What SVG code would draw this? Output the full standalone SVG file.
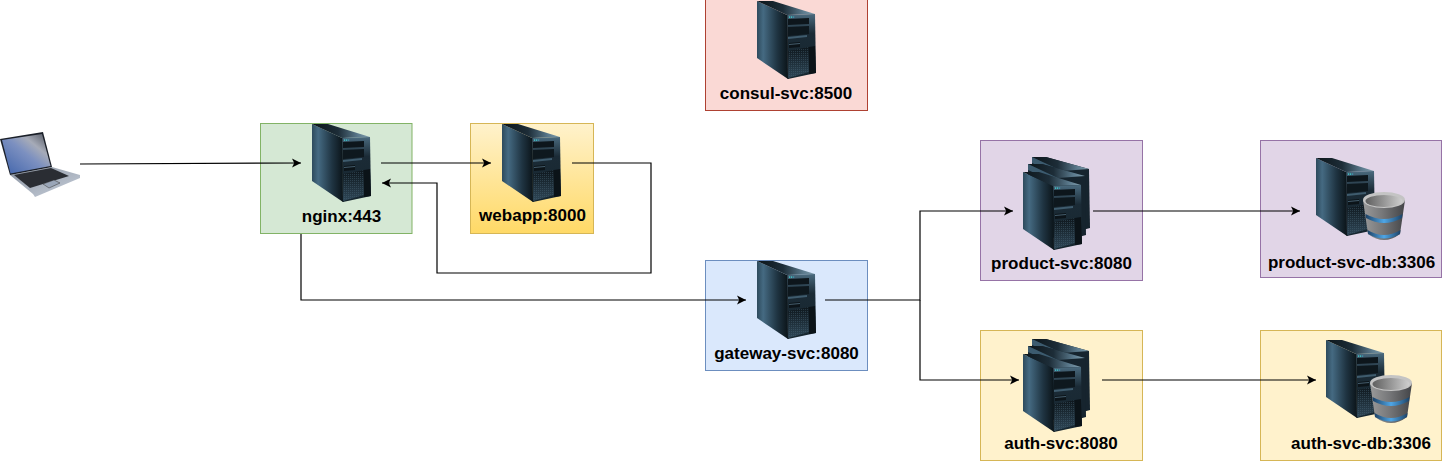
<svg xmlns="http://www.w3.org/2000/svg" width="1442" height="462" viewBox="0 0 1442 462">
<style>
text{font-family:"Liberation Sans",Arial,sans-serif;font-weight:bold;font-size:17px;fill:#000;text-anchor:middle}
.box{stroke-width:1}
.conn{fill:none;stroke:#000;stroke-width:1.2;marker-end:url(#arrow)}
</style>
<defs>
<marker id="arrow" markerUnits="userSpaceOnUse" markerWidth="12" markerHeight="12" refX="10" refY="6" orient="auto"><path d="M1 1.500 L10 6 L1 10.500 L3.200 6 Z" fill="#000"/></marker>
<linearGradient id="yellowGrad" x1="0" y1="0" x2="0" y2="1"><stop offset="0" stop-color="#fff2cc"/><stop offset="1" stop-color="#ffd966"/></linearGradient>
<linearGradient id="side" x1="0" y1="0" x2="1" y2="0"><stop offset="0" stop-color="#2d4a5c"/><stop offset=".2" stop-color="#456a82"/><stop offset=".65" stop-color="#1f3442"/><stop offset="1" stop-color="#0b1419"/></linearGradient>
<linearGradient id="top" x1="0" y1="0" x2="1" y2="0"><stop offset="0" stop-color="#0c151a"/><stop offset=".45" stop-color="#1d2d38"/><stop offset=".8" stop-color="#5c7b8e"/><stop offset="1" stop-color="#7f9cab"/></linearGradient>
<linearGradient id="front" x1="0" y1="0" x2="0" y2="1"><stop offset="0" stop-color="#4a6a7e"/><stop offset=".3" stop-color="#1b2b36"/><stop offset="1" stop-color="#16262f"/></linearGradient>
<linearGradient id="mesh" x1="0" y1="0" x2="0" y2="1"><stop offset="0" stop-color="#0e171d"/><stop offset="1" stop-color="#2f4757"/></linearGradient>
<pattern id="meshDots" width="2" height="2" patternUnits="userSpaceOnUse"><rect width="1" height="1" fill="#4c6a7a" fill-opacity=".4"/></pattern>
<linearGradient id="dbBody" x1="0" y1="0" x2="1" y2="0"><stop offset="0" stop-color="#9a9a9a"/><stop offset=".45" stop-color="#77787a"/><stop offset="1" stop-color="#434447"/></linearGradient>
<linearGradient id="dbTop" x1="0" y1="0" x2="1" y2="0"><stop offset="0" stop-color="#5f5f5f"/><stop offset="1" stop-color="#cfcfcf"/></linearGradient>
<linearGradient id="dbBand" x1="0" y1="0" x2="1" y2="0"><stop offset="0" stop-color="#1d4266"/><stop offset=".5" stop-color="#4fa6e6"/><stop offset="1" stop-color="#1d4266"/></linearGradient>
<linearGradient id="screen" x1="0" y1="1" x2="1" y2="0"><stop offset="0" stop-color="#3f63ab"/><stop offset=".5" stop-color="#7c90c0"/><stop offset=".7" stop-color="#a6abb8"/><stop offset="1" stop-color="#4a4e58"/></linearGradient>
<linearGradient id="deck" x1="0" y1="0" x2="1" y2="1"><stop offset="0" stop-color="#8a93a0"/><stop offset="1" stop-color="#c8d0dc"/></linearGradient>
<symbol id="server" width="60" height="80" viewBox="0 0 60 80" overflow="visible">
<path d="M0 0 L30 14 L31 78 L0 57 Z" fill="url(#side)"/>
<path d="M0 0 L16 0 L58 13 L30 14 Z" fill="url(#top)"/>
<path d="M30 14 L58 13 L59 72 L31 78 Z" fill="url(#front)"/>
<path d="M30 14 L31 78" stroke="#0c161c" stroke-width=".8"/>
<path d="M31 18 L52 17 L52 23 L31 24 Z" fill="#0d161c"/>
<path d="M31 26 L52 25 L52 33 L31 35 Z" fill="#0e181e"/>
<path d="M31 36 L50 34 L50 36 L31 38 Z" fill="#3f5c6e"/>
<path d="M32 42 L43 41 L43 46 L32 47 Z" fill="#0c1419"/>
<path d="M32 43.500 L43 42.500" stroke="#5c7d90" stroke-width=".7"/>
<path d="M31 50 L52 46 L52 71 L31 77 Z" fill="url(#mesh)"/>
<path d="M31 50 L52 46 L52 71 L31 77 Z" fill="url(#meshDots)"/>
<path d="M52 46 L58 45 L59 72 L52 73 Z" fill="#0b1318"/>
<rect x="32" y="15.500" width="1.200" height="1.200" fill="#3ee0e0"/><rect x="34" y="15.500" width="1.200" height="1.200" fill="#3ee0e0"/><rect x="36" y="15.500" width="1.200" height="1.200" fill="#3ea0c0"/>
</symbol>
<symbol id="serverBack" width="60" height="80" viewBox="0 0 60 80" overflow="visible">
<path d="M0 0 L14 0 L57 12 L58 71 L32 78 L0 57 Z" fill="#16242e"/>
<path d="M0 0 L14 0 L57 12 L30 14 Z" fill="url(#top)"/>
<path d="M0 0 L30 14 L31 20 L0 6 Z" fill="#3c5b6f"/>
</symbol>
<symbol id="servers" width="68" height="94" viewBox="0 0 68 94" overflow="visible">
<use href="#serverBack" x="9" y="0" width="60" height="80"/>
<use href="#serverBack" x="5" y="7" width="60" height="80"/>
<use href="#server" x="0" y="15" width="60" height="80"/>
</symbol>
<symbol id="db" width="44" height="50" viewBox="-22 0 44 50" overflow="visible">
<path d="M-21 8 L-16 42 Q0 54 16 42 L21 8 Z" fill="url(#dbBody)"/>
<path d="M-18.500 22 Q0 32 18.500 22 L18 26 Q0 36 -18 26 Z" fill="url(#dbBand)"/>
<path d="M-16.500 38 Q0 48 16.500 38 L16 42 Q0 51 -16 42 Z" fill="url(#dbBand)"/>
<ellipse cx="0" cy="8" rx="21" ry="8" fill="#c4c4c4"/>
<ellipse cx="0" cy="9" rx="18.500" ry="6" fill="url(#dbTop)"/>
</symbol>
</defs>

<g id="laptop">
<path d="M10 175 L52 167 L80 175 L80 178 L35 197 L33 194 Z" fill="url(#deck)"/>
<path d="M0 139 L43 132 L52 167 L10 175 Z" fill="#1a1f28"/>
<path d="M2 140 L42 134 L50.500 166 L10.500 173.500 Z" fill="url(#screen)"/>
<path d="M14 175 L51 168 L69 176 L30 188 Z" fill="#2a2d33"/>
<path d="M43 184 L54 180 L60 183 L49 188 Z" fill="#9aa6b8" stroke="#333" stroke-width=".5"/>
</g>

<g id="nginx">
<rect class="box" x="260.500" y="123.500" width="151.500" height="110" fill="#d5e8d4" stroke="#82b366"/>
<use href="#server" x="312" y="124" width="60" height="80"/>
<text x="341.500" y="221.500">nginx:443</text>
</g>

<g id="webapp">
<rect class="box" x="470.500" y="123.500" width="123" height="110" fill="url(#yellowGrad)" stroke="#d6b656"/>
<use href="#server" x="502" y="124" width="60" height="80"/>
<text x="532.500" y="220.500">webapp:8000</text>
</g>

<g id="consul-svc">
<rect class="box" x="705.500" y="-0.500" width="162" height="111" fill="#fad9d5" stroke="#ae4132"/>
<use href="#server" x="757" y="1" width="60" height="80"/>
<text x="786" y="98.500">consul-svc:8500</text>
</g>

<g id="gateway-svc">
<rect class="box" x="705.500" y="260.500" width="162" height="110" fill="#dae8fc" stroke="#6c8ebf"/>
<use href="#server" x="757" y="261" width="60" height="80"/>
<text x="786.500" y="358.500">gateway-svc:8080</text>
</g>

<g id="product-svc">
<rect class="box" x="980.500" y="140.500" width="162" height="140" fill="#e1d5e7" stroke="#9673a6"/>
<use href="#servers" x="1023" y="157" width="68" height="94"/>
<text x="1061.500" y="268.500">product-svc:8080</text>
</g>

<g id="auth-svc">
<rect class="box" x="980.500" y="330.500" width="162" height="130" fill="#fff2cc" stroke="#d6b656"/>
<use href="#servers" x="1023" y="339" width="68" height="94"/>
<text x="1061" y="448.500">auth-svc:8080</text>
</g>

<g id="product-svc-db">
<rect class="box" x="1260.500" y="140.500" width="181" height="137" fill="#e1d5e7" stroke="#9673a6"/>
<use href="#server" x="1316" y="158" width="60" height="80"/>
<use href="#db" x="1362" y="192" width="44" height="50"/>
<text x="1351.500" y="267.500">product-svc-db:3306</text>
</g>

<g id="auth-svc-db">
<rect class="box" x="1260.500" y="330.500" width="181" height="130" fill="#fff2cc" stroke="#d6b656"/>
<use href="#server" x="1326" y="340" width="60" height="80"/>
<use href="#db" x="1369" y="375" width="44" height="50"/>
<text x="1361" y="448.500">auth-svc-db:3306</text>
</g>

<g id="connectors">
<path class="conn" d="M80 164 L301 163"/>
<path class="conn" d="M381 163 L491 163"/>
<path class="conn" d="M572 163 L651 163 L651 273 L437 273 L437 183 L382 183"/>
<path class="conn" d="M301 234 L301 300 L746 300"/>
<path class="conn" d="M825 300 L920 300 L920 211 L1013 211"/>
<path class="conn" d="M920 300 L920 380 L1019 380"/>
<path class="conn" d="M1093 211 L1300 211"/>
<path class="conn" d="M1102 380 L1316 380"/>
</g>
</svg>
